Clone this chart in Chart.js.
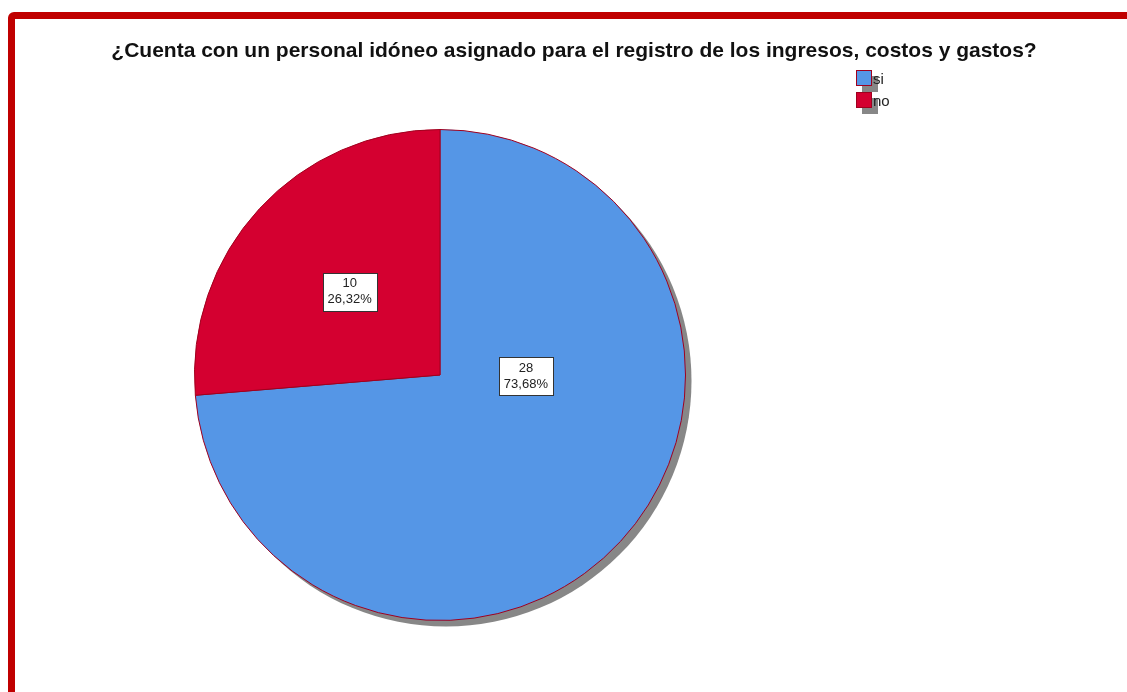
<!DOCTYPE html>
<html>
<head>
<meta charset="utf-8">
<script src="https://cdn.jsdelivr.net/npm/chart.js@4/dist/chart.umd.min.js"></script>
<style>
  html, body { margin: 0; padding: 0; background: #fff; overflow: hidden; }
  #frame {
    position: absolute; left: 8px; top: 12px; width: 1300px; height: 900px;
    border: 7px solid #c00000; border-radius: 6px; box-sizing: border-box;
  }
  #wrap { position: absolute; left: 0; top: 0; width: 1127px; height: 692px; }
</style>
</head>
<body>
<div id="frame"></div>
<div id="wrap"><canvas id="pie" width="1127" height="692"></canvas></div>
<script>
// chart data
var titleText = '¿Cuenta con un personal idóneo asignado para el registro de los ingresos, costos y gastos?';
var categories = ['si', 'no'];
var counts = [28, 10];
var sliceColors = ['#5596e6', '#d40030'];

(function() {
    'use strict';

    var total = counts.reduce(function(a, b) { return a + b; }, 0);

    function pctText(v) {
        return (v / total * 100).toFixed(2).replace('.', ',') + '%';
    }

    // grey drop shadow under the pie
    var shadowPlugin = {
        id: 'pieShadow',
        beforeDatasetsDraw: function(chart) {
            var arc = chart.getDatasetMeta(0).data[0];
            if (!arc) return;
            var ctx = chart.ctx;
            ctx.save();
            ctx.fillStyle = '#878787';
            ctx.beginPath();
            ctx.arc(arc.x + 6, arc.y + 6, arc.outerRadius, 0, Math.PI * 2);
            ctx.fill();
            ctx.restore();
        }
    };

    // count / percent boxes, SPSS style
    var labelPlugin = {
        id: 'sliceLabels',
        afterDatasetsDraw: function(chart, args, opts) {
            var ctx = chart.ctx;
            var meta = chart.getDatasetMeta(0);
            ctx.save();
            ctx.font = '13px "Liberation Sans", Arial, sans-serif';
            ctx.textAlign = 'center';
            ctx.textBaseline = 'middle';
            meta.data.forEach(function(arc, i) {
                var place = opts.placement[i];
                var a = (place.deg - 90) * Math.PI / 180;
                var x = arc.x + Math.cos(a) * arc.outerRadius * place.f;
                var y = arc.y + Math.sin(a) * arc.outerRadius * place.f;
                var w = 54, h = 38;
                var left = Math.round(x - w / 2) + 0.5, top = Math.round(y - h / 2) + 0.5;
                ctx.fillStyle = '#fff';
                ctx.fillRect(left, top, w, h);
                ctx.strokeStyle = '#333';
                ctx.lineWidth = 1;
                ctx.strokeRect(left, top, w, h);
                ctx.fillStyle = '#222';
                ctx.fillText(String(counts[i]), x, y - 8);
                ctx.fillText(pctText(counts[i]), x, y + 8);
            });
            ctx.restore();
        }
    };

    // title and legend with shadowed boxes
    var decorPlugin = {
        id: 'decor',
        afterDraw: function(chart) {
            var ctx = chart.ctx;
            ctx.save();
            ctx.fillStyle = '#111';
            ctx.font = 'bold 21px "Liberation Sans", Arial, sans-serif';
            ctx.textAlign = 'center';
            ctx.textBaseline = 'middle';
            ctx.fillText(titleText, 574, 51);

            ctx.font = '15px "Liberation Sans", Arial, sans-serif';
            ctx.textAlign = 'left';
            categories.forEach(function(cat, i) {
                var bx = 856, by = 70 + i * 22;
                ctx.fillStyle = '#878787';
                ctx.fillRect(bx + 6, by + 6, 16, 16);
                ctx.fillStyle = sliceColors[i];
                ctx.fillRect(bx, by, 16, 16);
                ctx.strokeStyle = '#a0001e';
                ctx.lineWidth = 1;
                ctx.strokeRect(bx + 0.5, by + 0.5, 15, 15);
                ctx.fillStyle = '#222';
                ctx.fillText(cat, bx + 17, by + 10);
            });
            ctx.restore();
        }
    };

    var ctx = document.getElementById('pie').getContext('2d');
    new Chart(ctx, {
        type: 'pie',
        data: {
            labels: categories,
            datasets: [{
                data: counts,
                backgroundColor: sliceColors,
                borderColor: '#a0001e',
                borderWidth: 1
            }]
        },
        options: {
            responsive: false,
            animation: false,
            devicePixelRatio: 1,
            layout: {
                padding: { left: 194, right: 441, top: 129, bottom: 71 }
            },
            plugins: {
                legend: { display: false },
                tooltip: { enabled: false },
                sliceLabels: {
                    placement: [{ deg: 91, f: 0.35 }, { deg: 312.6, f: 0.5 }]
                }
            }
        },
        plugins: [shadowPlugin, labelPlugin, decorPlugin]
    });
})();
</script>
</body>
</html>
